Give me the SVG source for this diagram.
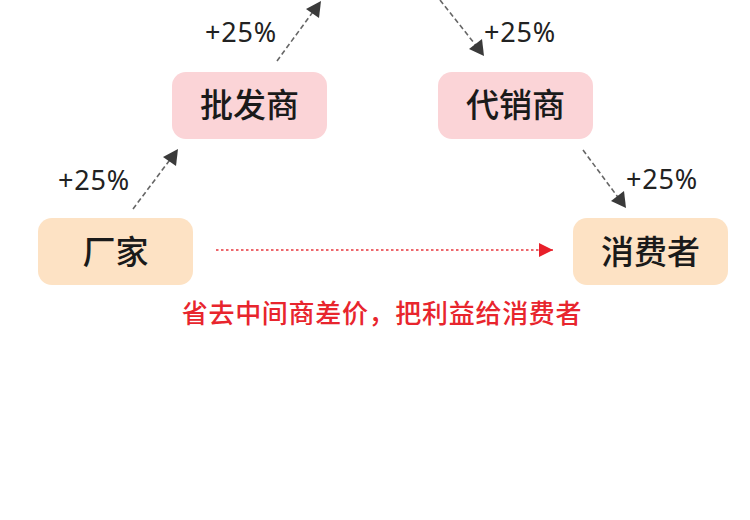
<svg xmlns="http://www.w3.org/2000/svg" width="750" height="520" viewBox="0 0 750 520">
<defs>
<style>
.box-a{fill:#fde2c4}
.box-b{fill:#fbd4d7}
.nt{font-family:"Noto Sans CJK SC","Noto Sans",sans-serif;font-size:33px;font-weight:500;fill:#1a1a1a;text-anchor:middle}
.pct{font-family:"Noto Sans","Noto Sans CJK SC",sans-serif;font-size:27px;fill:#222;text-anchor:middle;letter-spacing:0.8px}
.note{font-family:"Noto Sans CJK SC",sans-serif;font-size:26px;font-weight:500;fill:#e8252d;text-anchor:middle;letter-spacing:0.7px}
.dash{stroke:#666;stroke-width:1.6;stroke-dasharray:5 3;fill:none}
.red{stroke:#e8343c;stroke-width:1.6;stroke-dasharray:2.5 2.5;fill:none}
</style>
<marker id="ahr" viewBox="0 0 10 10" refX="10" refY="5" markerWidth="14" markerHeight="14" markerUnits="userSpaceOnUse" orient="auto">
<path d="M0,0 L10,5 L0,10 Z" fill="#e8202a"/>
</marker>
</defs>
<rect width="750" height="520" fill="#fff"/>
<g id="connectors">
<line class="dash" x1="133" y1="209" x2="172" y2="157"/>
<line class="dash" x1="277" y1="61" x2="315" y2="9"/>
<line class="dash" x1="440" y1="0" x2="478" y2="48"/>
<line class="dash" x1="583" y1="150" x2="620" y2="200"/>
<line class="red" x1="216" y1="250" x2="553" y2="250" marker-end="url(#ahr)"/>
</g>
<g id="arrowheads" fill="#3a3a3a">
<polygon points="178,149 176,166 163,157"/>
<polygon points="321,1 319,18 306,9"/>
<polygon points="484,56 482,39 469,49"/>
<polygon points="626,208 624,191 611,201"/>
</g>
<g id="labels">
<text class="pct" x="94" y="190">+25%</text>
<text class="pct" x="241" y="42">+25%</text>
<text class="pct" x="520" y="42">+25%</text>
<text class="pct" x="662" y="189">+25%</text>
</g>
<g id="n-changjia">
<rect class="box-a" x="38" y="218" width="155" height="67" rx="14"/>
<text class="nt" x="115.5" y="264">厂家</text>
</g>
<g id="n-pifashang">
<rect class="box-b" x="172" y="72" width="155" height="67" rx="14"/>
<text class="nt" x="249.5" y="117">批发商</text>
</g>
<g id="n-daixiaoshang">
<rect class="box-b" x="438" y="72" width="155" height="67" rx="14"/>
<text class="nt" x="515.5" y="117">代销商</text>
</g>
<g id="n-xiaofeizhe">
<rect class="box-a" x="573" y="218" width="155" height="67" rx="14"/>
<text class="nt" x="650.5" y="264">消费者</text>
</g>
<text class="note" x="382" y="323">省去中间商差价，把利益给消费者</text>
</svg>
